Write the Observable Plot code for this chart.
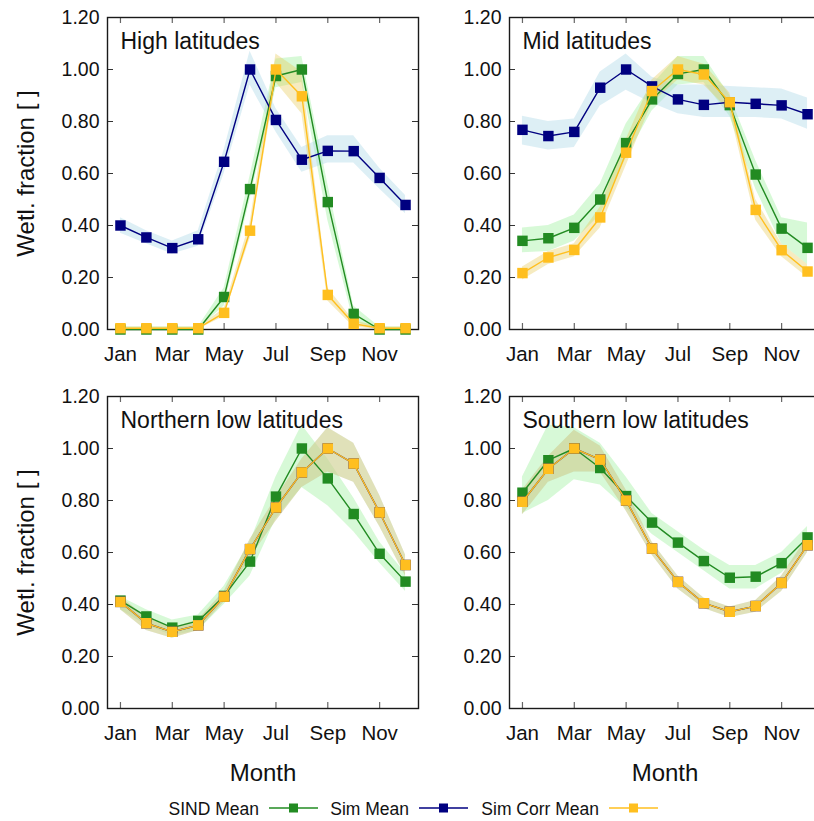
<!DOCTYPE html>
<html>
<head>
<meta charset="utf-8">
<script src="https://cdn.jsdelivr.net/npm/d3@7"></script>
<script src="https://cdn.jsdelivr.net/npm/@observablehq/plot@0.6"></script>
<style>
  body { margin: 0; background: #fff; }
  #wrap { position: relative; width: 814px; height: 821px; overflow: hidden; background: #fff;
          font-family: "Liberation Sans", Arial, sans-serif; }
  .panel { position: absolute; width: 422px; }
  #legend { position: absolute; left: 0; top: 795px; }
</style>
</head>
<body>
<div id="wrap"></div>
<script>
// ---------- data ----------
const months = [1, 2, 3, 4, 5, 6, 7, 8, 9, 10, 11, 12];
const monthNames = ["Jan","Feb","Mar","Apr","May","Jun","Jul","Aug","Sep","Oct","Nov","Dec"];
const monthTicks = [1, 3, 5, 7, 9, 11];
const yTicks = [0, 0.2, 0.4, 0.6, 0.8, 1.0, 1.2];
const seriesNames = ["SIND Mean", "Sim Mean", "Sim Corr Mean"];
const panelTitles = ["High latitudes", "Mid latitudes", "Northern low latitudes", "Southern low latitudes"];

// High latitudes
const highSind   = [0.00, 0.00, 0.00, 0.00, 0.125, 0.54, 0.975, 1.00, 0.49, 0.06, 0.00, 0.00];
const highSindLo = [0.00, 0.00, 0.00, 0.00, 0.09, 0.50, 0.93, 0.95, 0.42, 0.03, 0.00, 0.00];
const highSindHi = [0.01, 0.01, 0.01, 0.01, 0.16, 0.59, 1.04, 1.05, 0.56, 0.09, 0.01, 0.01];
const highSim    = [0.40, 0.354, 0.313, 0.347, 0.645, 1.00, 0.806, 0.653, 0.687, 0.686, 0.583, 0.479];
const highSimLo  = [0.37, 0.33, 0.29, 0.32, 0.60, 0.94, 0.76, 0.605, 0.64, 0.64, 0.54, 0.445];
const highSimHi  = [0.43, 0.38, 0.34, 0.38, 0.69, 1.07, 0.85, 0.70, 0.745, 0.745, 0.62, 0.515];
const highCorr   = [0.005, 0.005, 0.005, 0.005, 0.064, 0.38, 1.00, 0.897, 0.133, 0.022, 0.005, 0.005];
const highCorrLo = [0.00, 0.00, 0.00, 0.00, 0.05, 0.35, 0.95, 0.83, 0.11, 0.01, 0.00, 0.00];
const highCorrHi = [0.01, 0.01, 0.01, 0.01, 0.08, 0.41, 1.06, 0.99, 0.16, 0.035, 0.01, 0.01];

// Mid latitudes
const midSind    = [0.341, 0.351, 0.391, 0.50, 0.717, 0.885, 0.983, 1.00, 0.863, 0.596, 0.388, 0.314];
const midSindLo  = [0.295, 0.30, 0.34, 0.44, 0.66, 0.84, 0.94, 0.95, 0.82, 0.54, 0.33, 0.25];
const midSindHi  = [0.39, 0.40, 0.44, 0.56, 0.79, 0.94, 1.05, 1.05, 0.90, 0.65, 0.43, 0.41];
const midSim     = [0.768, 0.744, 0.760, 0.930, 1.00, 0.935, 0.885, 0.864, 0.874, 0.868, 0.862, 0.828];
const midSimLo   = [0.71, 0.69, 0.70, 0.86, 0.92, 0.87, 0.83, 0.815, 0.815, 0.815, 0.81, 0.77];
const midSimHi   = [0.82, 0.80, 0.81, 0.99, 1.06, 0.97, 0.94, 0.94, 0.935, 0.93, 0.925, 0.89];
const midCorr    = [0.217, 0.277, 0.306, 0.431, 0.68, 0.917, 1.00, 0.981, 0.874, 0.46, 0.305, 0.223];
const midCorrLo  = [0.19, 0.25, 0.28, 0.39, 0.63, 0.87, 0.96, 0.94, 0.84, 0.42, 0.28, 0.20];
const midCorrHi  = [0.24, 0.30, 0.33, 0.47, 0.73, 0.96, 1.05, 1.02, 0.91, 0.50, 0.33, 0.25];

// Northern low latitudes
const nlSind     = [0.415, 0.354, 0.311, 0.337, 0.433, 0.565, 0.815, 1.00, 0.885, 0.748, 0.595, 0.488];
const nlSindLo   = [0.38, 0.32, 0.28, 0.30, 0.40, 0.51, 0.73, 0.85, 0.78, 0.68, 0.56, 0.45];
const nlSindHi   = [0.43, 0.38, 0.34, 0.36, 0.47, 0.64, 0.89, 1.09, 0.96, 0.81, 0.64, 0.52];
const nlSim      = [0.41, 0.328, 0.295, 0.32, 0.43, 0.613, 0.773, 0.908, 1.00, 0.942, 0.754, 0.552];
const nlSimLo    = [0.38, 0.30, 0.27, 0.30, 0.41, 0.58, 0.72, 0.85, 0.91, 0.87, 0.70, 0.51];
const nlSimHi    = [0.43, 0.35, 0.31, 0.34, 0.45, 0.65, 0.81, 0.96, 1.08, 1.02, 0.82, 0.59];
const nlCorr     = [0.41, 0.328, 0.295, 0.32, 0.43, 0.613, 0.773, 0.908, 1.00, 0.942, 0.754, 0.552];
const nlCorrLo   = [0.38, 0.30, 0.27, 0.30, 0.41, 0.58, 0.72, 0.85, 0.91, 0.87, 0.70, 0.51];
const nlCorrHi   = [0.43, 0.35, 0.31, 0.34, 0.45, 0.65, 0.81, 0.96, 1.08, 1.02, 0.82, 0.59];

// Southern low latitudes
const slSind     = [0.83, 0.955, 1.00, 0.925, 0.817, 0.715, 0.638, 0.567, 0.503, 0.507, 0.559, 0.658];
const slSindLo   = [0.75, 0.80, 0.88, 0.86, 0.77, 0.67, 0.60, 0.53, 0.46, 0.46, 0.52, 0.62];
const slSindHi   = [0.89, 1.09, 1.08, 1.02, 0.89, 0.75, 0.68, 0.61, 0.55, 0.55, 0.60, 0.70];
const slSim      = [0.795, 0.922, 1.00, 0.957, 0.80, 0.615, 0.487, 0.405, 0.372, 0.394, 0.483, 0.628];
const slSimLo    = [0.745, 0.87, 0.91, 0.91, 0.76, 0.59, 0.46, 0.385, 0.35, 0.37, 0.45, 0.60];
const slSimHi    = [0.84, 0.97, 1.07, 1.01, 0.84, 0.64, 0.51, 0.425, 0.39, 0.415, 0.51, 0.66];
const slCorr     = [0.795, 0.922, 1.00, 0.957, 0.80, 0.615, 0.487, 0.405, 0.372, 0.394, 0.483, 0.628];
const slCorrLo   = [0.745, 0.87, 0.91, 0.91, 0.76, 0.59, 0.46, 0.385, 0.35, 0.37, 0.45, 0.60];
const slCorrHi   = [0.84, 0.97, 1.07, 1.01, 0.84, 0.64, 0.51, 0.425, 0.39, 0.415, 0.51, 0.66];

// ---------- styles ----------
const colors = { sind: "#228b22", sim: "#000080", corr: "#ffbf1f" };
const bands  = { sind: ["#90ee90", 0.36], sim: ["#add8e6", 0.42], corr: ["#e6c850", 0.36] };
const FONT = "'Liberation Sans', Arial, Helvetica, sans-serif";

const W_PLOT = 311, H_PLOT = 312;
const ML = 107, MR = 4, MT = 17;

function makeRows(s, sLo, sHi, m, mLo, mHi, c, cLo, cHi) {
  return months.map((mo, i) => ({
    m: mo,
    sind: s[i], sindLo: sLo[i], sindHi: sHi[i],
    sim: m[i], simLo: mLo[i], simHi: mHi[i],
    corr: c[i], corrLo: cLo[i], corrHi: cHi[i]
  }));
}

function panel(rows, title, {showYLabel, showXLabel, mb}) {
  const marks = [];
  for (const k of ["sind", "sim", "corr"]) {
    marks.push(Plot.areaY(rows, {x: "m", y1: k + "Lo", y2: k + "Hi", fill: bands[k][0], fillOpacity: bands[k][1]}));
  }
  // inward ticks
  marks.push(Plot.tickX(monthTicks, {x: d => d, insetTop: H_PLOT - 6, stroke: "#666", strokeWidth: 1.2}));
  marks.push(Plot.tickX(monthTicks, {x: d => d, insetBottom: H_PLOT - 6, stroke: "#666", strokeWidth: 1.2}));
  marks.push(Plot.tickY(yTicks.slice(1, -1), {y: d => d, insetRight: W_PLOT - 6, stroke: "#333", strokeWidth: 1}));
  marks.push(Plot.tickY(yTicks.slice(1, -1), {y: d => d, insetLeft: W_PLOT - 6, stroke: "#333", strokeWidth: 1}));
  marks.push(Plot.frame({stroke: "#1a1a1a", strokeWidth: 1.4}));
  marks.push(Plot.axisX(monthTicks, {label: null, tickSize: 0, tickPadding: 17, fontSize: 20.5,
    tickFormat: d => monthNames[d - 1]}));
  marks.push(Plot.axisY(yTicks, {label: null, tickSize: 0, tickPadding: 8, fontSize: 19.5,
    tickFormat: d => d.toFixed(2)}));
  for (const k of ["sind", "sim", "corr"]) {
    marks.push(Plot.line(rows, {x: "m", y: k, stroke: colors[k], strokeWidth: 1.4}));
    marks.push(Plot.dot(rows, {x: "m", y: k, symbol: "square", r: 5.9, fill: colors[k], stroke: "none"}));
  }
  marks.push(Plot.text([title], {frameAnchor: "top-left", dx: 13, dy: 15, textAnchor: "start",
    lineAnchor: "top", fontSize: 23, fill: "#111"}));
  if (showYLabel) {
    marks.push(Plot.text(["Wetl. fraction [ ]"], {frameAnchor: "left", dx: -81, rotate: -90,
      textAnchor: "middle", lineAnchor: "middle", fontSize: 24, fill: "#111"}));
  }
  if (showXLabel) {
    marks.push(Plot.text(["Month"], {frameAnchor: "bottom", dy: 65, textAnchor: "middle",
      lineAnchor: "middle", fontSize: 24, fill: "#111"}));
  }
  return Plot.plot({
    width: ML + W_PLOT + MR,
    height: MT + H_PLOT + mb,
    marginLeft: ML, marginRight: MR, marginTop: MT, marginBottom: mb,
    style: {background: "transparent", fontFamily: FONT, fontSize: "18px", color: "#111",
            maxWidth: "none", overflow: "visible"},
    x: {domain: [0.5, 12.5]},
    y: {domain: [0, 1.2]},
    marks
  });
}

const wrap = document.getElementById("wrap");
const panels = [
  {rows: makeRows(highSind, highSindLo, highSindHi, highSim, highSimLo, highSimHi, highCorr, highCorrLo, highCorrHi),
   title: panelTitles[0], left: 0, top: 0, showYLabel: true, showXLabel: false, mb: 44},
  {rows: makeRows(midSind, midSindLo, midSindHi, midSim, midSimLo, midSimHi, midCorr, midCorrLo, midCorrHi),
   title: panelTitles[1], left: 402, top: 0, showYLabel: false, showXLabel: false, mb: 44},
  {rows: makeRows(nlSind, nlSindLo, nlSindHi, nlSim, nlSimLo, nlSimHi, nlCorr, nlCorrLo, nlCorrHi),
   title: panelTitles[2], left: 0, top: 379, showYLabel: true, showXLabel: true, mb: 84},
  {rows: makeRows(slSind, slSindLo, slSindHi, slSim, slSimLo, slSimHi, slCorr, slCorrLo, slCorrHi),
   title: panelTitles[3], left: 402, top: 379, showYLabel: false, showXLabel: true, mb: 84}
];
for (const p of panels) {
  const div = document.createElement("div");
  div.className = "panel";
  div.style.left = p.left + "px";
  div.style.top = p.top + "px";
  div.appendChild(panel(p.rows, p.title, p));
  wrap.appendChild(div);
}

// ---------- legend ----------
const legendItems = [
  {name: seriesNames[0], color: colors.sind, textEnd: 259, x0: 269, x1: 318},
  {name: seriesNames[1], color: colors.sim, textEnd: 409, x0: 419, x1: 468},
  {name: seriesNames[2], color: colors.corr, textEnd: 599, x0: 609, x1: 658}
];
const lsvg = d3.create("svg").attr("id", "legend").attr("width", 814).attr("height", 26)
  .style("position", "absolute").style("left", "0px").style("top", "795px");
const g = lsvg.selectAll("g").data(legendItems).join("g");
g.append("text").attr("x", d => d.textEnd).attr("y", 13.5).attr("text-anchor", "end")
  .attr("dominant-baseline", "central").attr("font-family", FONT).attr("font-size", 17.5).attr("fill", "#111")
  .text(d => d.name);
g.append("line").attr("x1", d => d.x0).attr("x2", d => d.x1).attr("y1", 13).attr("y2", 13)
  .attr("stroke", d => d.color).attr("stroke-width", 1.4);
g.append("rect").attr("x", d => (d.x0 + d.x1) / 2 - 4.5).attr("y", 8.5).attr("width", 9).attr("height", 9)
  .attr("fill", d => d.color);
wrap.appendChild(lsvg.node());
</script>
</body>
</html>
